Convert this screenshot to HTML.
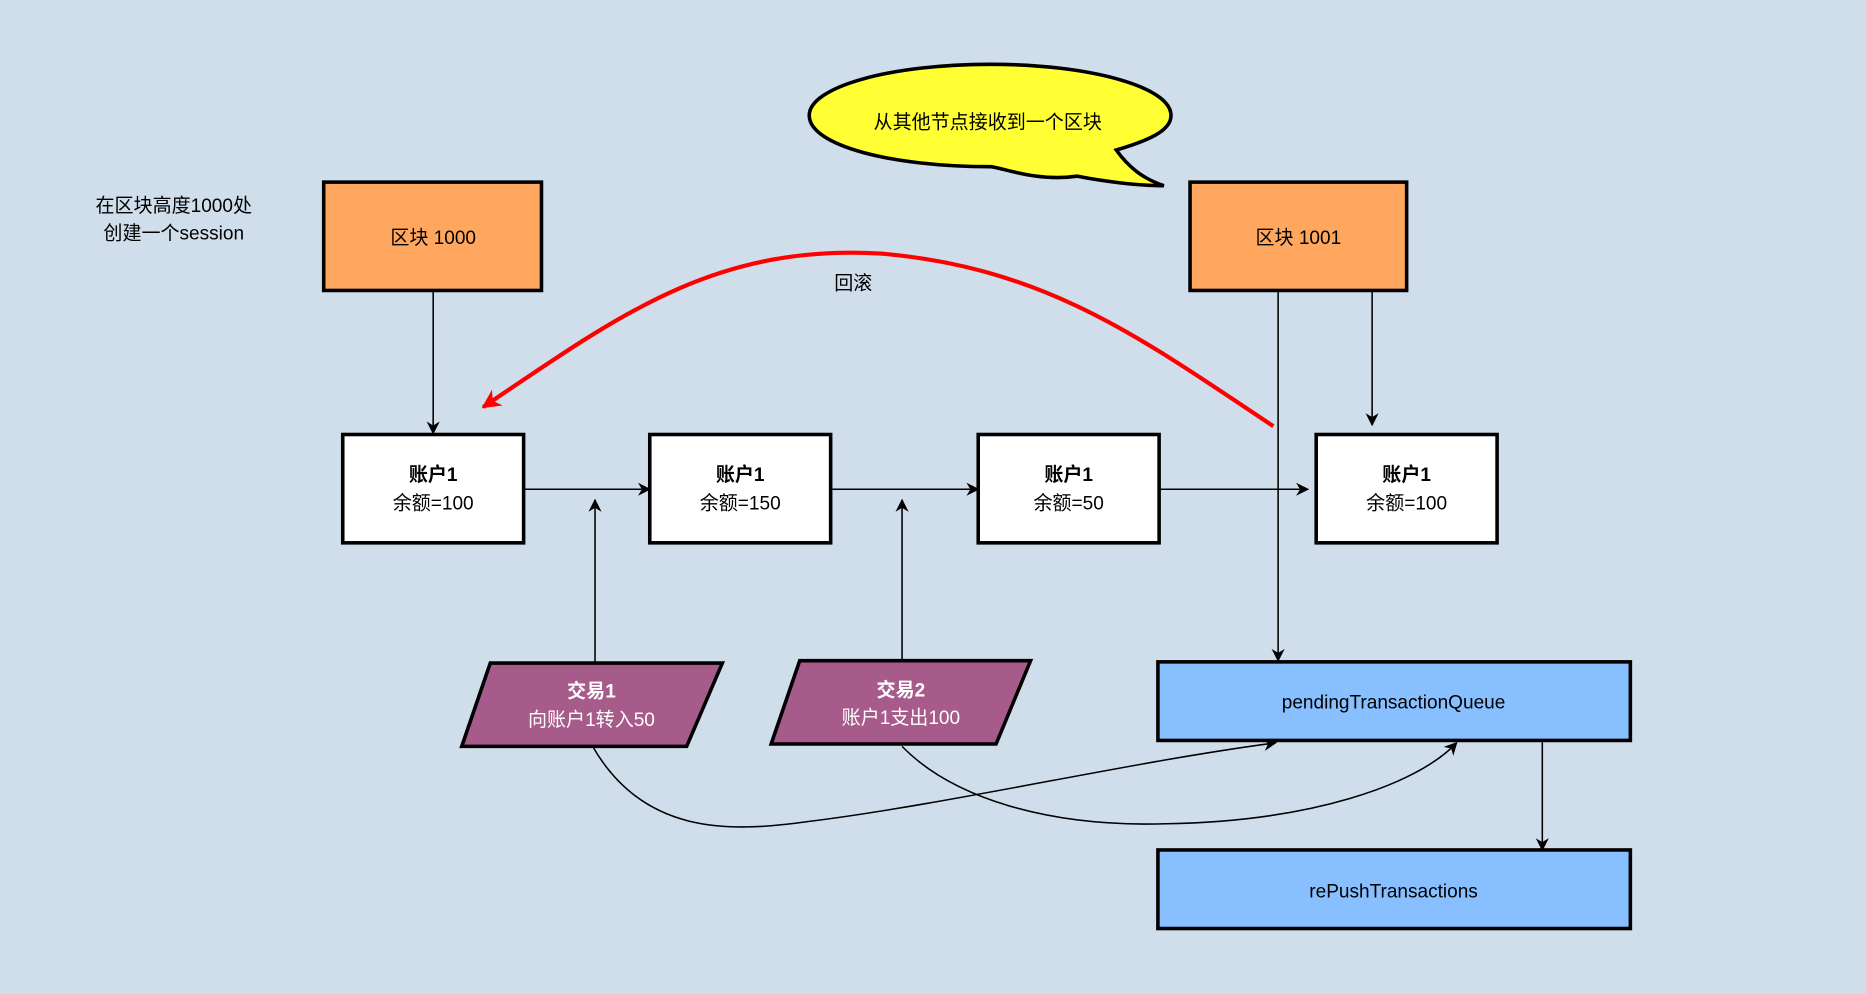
<!DOCTYPE html>
<html><head><meta charset="utf-8"><style>
html,body{margin:0;padding:0;background:#d0deeb;}
svg{display:block}
text{font-family:"Liberation Sans","Noto Sans CJK SC",sans-serif;}
</style></head><body>
<svg width="1866" height="994" viewBox="0 0 1568 835" preserveAspectRatio="none" xmlns="http://www.w3.org/2000/svg">
<defs>
<marker id="a" viewBox="0 0 10 10" refX="9" refY="5" markerWidth="11" markerHeight="11" markerUnits="userSpaceOnUse" orient="auto"><path d="M0,0 L10,5 L0,10 L3,5 Z" fill="#000"/></marker>
<marker id="r" viewBox="0 0 10 10" refX="9" refY="5" markerWidth="16" markerHeight="16" markerUnits="userSpaceOnUse" orient="auto"><path d="M0,0 L10,5 L0,10 L3,5 Z" fill="#f00"/></marker>
</defs>
<rect width="1568" height="835" fill="#d0deeb"/>
<text x="146" y="178" font-size="16" text-anchor="middle">在区块高度1000处</text>
<text x="146" y="201" font-size="16" text-anchor="middle">创建一个session</text>
<path d="M905,148 C870,153 840,140 832,140 C748,140 680,122 680,97 C680,73 748,54 832,54 C916,54 984,73 984,97 C984,110 965,118 938,126 C948,140 960,150 978,156 C955,156 925,152 905,148 Z" fill="#ffff33" stroke="#000" stroke-width="3"/>
<text x="830" y="108" font-size="16" text-anchor="middle">从其他节点接收到一个区块</text>
<rect x="272" y="153" width="183" height="91" fill="#ffa75e" stroke="#000" stroke-width="3"/>
<text x="364" y="205" font-size="16" text-anchor="middle">区块 1000</text>
<rect x="1000" y="153" width="182" height="91" fill="#ffa75e" stroke="#000" stroke-width="3"/>
<text x="1091" y="205" font-size="16" text-anchor="middle">区块 1001</text>
<g fill="#fff" stroke="#000" stroke-width="3">
<rect x="288" y="365" width="152" height="91"/><rect x="546" y="365" width="152" height="91"/>
<rect x="822" y="365" width="152" height="91"/><rect x="1106" y="365" width="152" height="91"/>
</g>
<g font-size="16" text-anchor="middle">
<text x="364" y="404" font-weight="bold">账户1</text><text x="364" y="428">余额=100</text>
<text x="622" y="404" font-weight="bold">账户1</text><text x="622" y="428">余额=150</text>
<text x="898" y="404" font-weight="bold">账户1</text><text x="898" y="428">余额=50</text>
<text x="1182" y="404" font-weight="bold">账户1</text><text x="1182" y="428">余额=100</text>
</g>
<g stroke="#000" stroke-width="1.3" fill="none" marker-end="url(#a)">
<path d="M364,244 V364"/><path d="M1153,244 V357"/><path d="M1074,244 V555"/>
<path d="M440,411 H546"/><path d="M698,411 H822"/><path d="M974,411 H1099"/>
<path d="M500,557 V420"/><path d="M758,555 V420"/>
<path d="M1296,622 V714"/>
<path d="M498,627 C540,700 610,700 680,690 C800,675 950,640 1072,624"/>
<path d="M758,627 C800,670 880,695 980,692 C1100,690 1190,660 1224,624"/>
</g>
<path d="M1070,358 C960,285 880,225 740,213 C600,205 520,265 406,342" fill="none" stroke="#f00" stroke-width="3.5" marker-end="url(#r)"/>
<text x="717" y="243" font-size="16" text-anchor="middle">回滚</text>
<polygon points="412,557 607,557 577,627 388,627" fill="#a65b8a" stroke="#000" stroke-width="3"/>
<polygon points="672,555 866,555 837,625 648,625" fill="#a65b8a" stroke="#000" stroke-width="3"/>
<g font-size="16" text-anchor="middle" fill="#fff">
<text x="497" y="586" font-weight="bold">交易1</text><text x="497" y="610">向账户1转入50</text>
<text x="757" y="585" font-weight="bold">交易2</text><text x="757" y="608">账户1支出100</text>
</g>
<rect x="973" y="556" width="397" height="66" fill="#88bfff" stroke="#000" stroke-width="3"/>
<text x="1171" y="595" font-size="16" text-anchor="middle">pendingTransactionQueue</text>
<rect x="973" y="714" width="397" height="66" fill="#88bfff" stroke="#000" stroke-width="3"/>
<text x="1171" y="754" font-size="16" text-anchor="middle">rePushTransactions</text>
</svg>
</body></html>
